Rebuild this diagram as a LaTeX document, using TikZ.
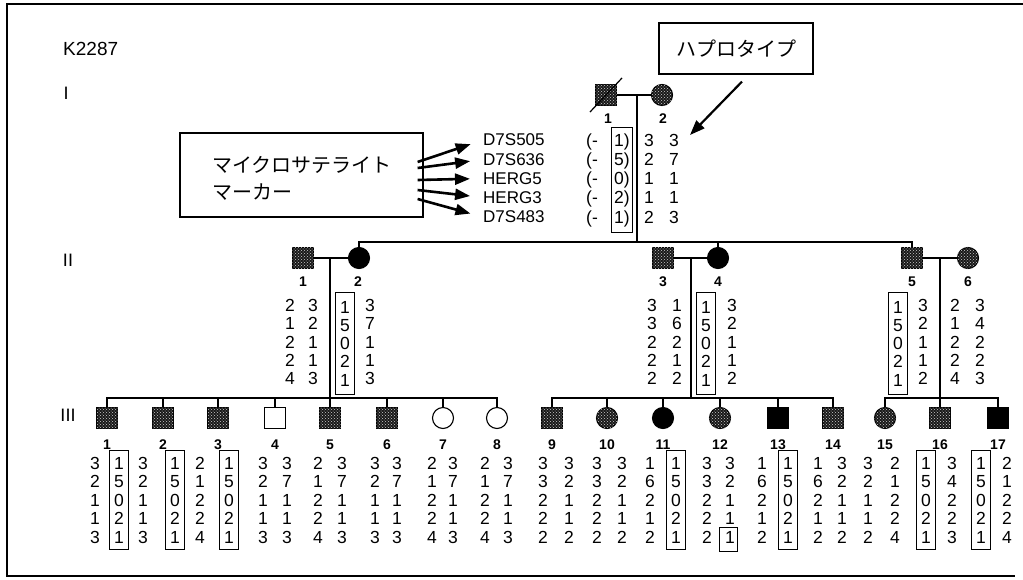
\documentclass[tikz,border=0pt]{standalone}
\usepackage{fontspec}
\setmainfont{Liberation Sans}
\newfontfamily\jpfont{Noto Sans CJK JP}
\usetikzlibrary{positioning,arrows.meta,calc,patterns}
% five alleles of one haplotype, one per row
\def\hdx#1#2#3#4#5{#1\\#2\\#3\\#4\\#5}

\begin{document}
\begin{tikzpicture}[x=1pt, y=-1pt,
    ln/.style={line width=1.2pt},
    sym/.style={draw, line width=1.1pt, inner sep=0pt, minimum size=21pt},
    male/.style={sym, rectangle},
    female/.style={sym, circle},
    aff/.style={fill=black},
    car/.style={fill=black!90, postaction={pattern=crosshatch dots, pattern color=white!80!black}},
    unaff/.style={fill=white},
    symfill/.style={#1},
    nr/.style={font=\fontsize{14}{14}\selectfont\bfseries, inner sep=0pt},
    gen/.style={font=\fontsize{18}{18}\selectfont, inner sep=0pt},
    mkl/.style={font=\fontsize{17}{17}\selectfont, anchor=west, inner sep=0pt},
    hapi/.style={align=center, inner xsep=2.5pt, inner ysep=6pt, line width=1pt, font=\fontsize{17.5}{19.25}\selectfont},
    hapii/.style={align=center, inner xsep=5pt, inner ysep=8.5pt, line width=1pt, font=\fontsize{17.5}{18.25}\selectfont},
    hapiii/.style={align=center, inner xsep=5pt, inner ysep=6.5pt, line width=1pt, font=\fontsize{17.5}{18.5}\selectfont},
    jp/.style={font=\jpfont\fontsize{20}{27}\selectfont},
    marr/.style={-{Triangle[length=15pt,width=11pt]}, line width=2.6pt, shorten >=13pt}]
  \useasboundingbox (0,0) rectangle (1023,579);
  \draw[line width=1.5pt] (1023,4) -- (7,4) -- (7,576) -- (1015,576);

  \node[font=\fontsize{19}{19}\selectfont, anchor=west, inner sep=0pt] (fam) at (63,49) {K2287};
  \node[gen] (g1) at (66,93) {I};
  \node[gen] (g2) at (68,260) {II};
  \node[gen] (g3) at (68,415) {III};

  % callouts
  \node[draw, line width=1.2pt, minimum width=243pt, minimum height=84pt] (mk) at (301.5,175) {};
  \node[jp, anchor=west, align=left, inner sep=0pt] (mkt) at (212,178.5) {マイクロサテライト\\マーカー};
  \node[draw, line width=1.2pt, minimum width=154pt, minimum height=51pt, jp] (hb) at (736,48.5) {ハプロタイプ};
  \coordinate (hapt) at (690,135);
  \draw[line width=2.2pt, -{Triangle[length=15pt,width=11pt]}] ([shift={(6,7)}]hb.south) -- (hapt);

  % markers
  \node[mkl] (mk1) at (483,140) {D7S505};
  \node[mkl] (mk2) at (483,159.5) {D7S636};
  \node[mkl] (mk3) at (483,178.5) {HERG5};
  \node[mkl] (mk4) at (483,197.5) {HERG3};
  \node[mkl] (mk5) at (483,217) {D7S483};
  \draw[marr] ([shift={(-6,-13)}]mk.east) -- (mk1.west);
  \draw[marr] ([shift={(-6,-7)}]mk.east) -- (mk2.west);
  \draw[marr] ([shift={(-6,5)}]mk.east) -- (mk3.west);
  \draw[marr] ([shift={(-6,15)}]mk.east) -- (mk4.west);
  \draw[marr] ([shift={(-6,24)}]mk.east) -- (mk5.west);

  % generation I
  \node[male,car] (i1) at (606,95) {};
  \node[female,car] (i2) at (662,95) {};
  \draw[ln] ([shift={(-5,6)}]i1.south west) -- ([shift={(5,-6)}]i1.north east);
  \node[nr] (n1-1) at (608,119) {1};
  \node[nr] (n1-2) at (663,119) {2};
  \node[hapi] (i1-l) at (592,180) {(-\\(-\\(-\\(-\\(-};
  \node[hapi, draw] (i1-r) at (622,180) {1)\\5)\\0)\\2)\\1)};
  \node[hapi] (i2-l) at (649,178.5) {\hdx 32112};
  \node[hapi] (i2-r) at (674,178.5) {\hdx 37113};

  % generation II
  \node[male,car] (ii1) at (303,258) {};
  \node[female,aff] (ii2) at (359,258) {};
  \node[male,car] (ii3) at (663,258) {};
  \node[female,aff] (ii4) at (718,258) {};
  \node[male,car] (ii5) at (912,258) {};
  \node[female,car] (ii6) at (968,258) {};
  \foreach \k/\x in {1/303,2/358,3/663,4/718,5/912,6/968}
    \node[nr] (n2-\k) at (\x,282) {\k};
  \node[hapii] (ii1-l) at (290,342) {\hdx 21224};
  \node[hapii] (ii1-r) at (313,342) {\hdx 32113};
  \node[hapii, draw] (ii2-l) at (345,343.5) {\hdx 15021};
  \node[hapii] (ii2-r) at (370,342) {\hdx 37113};
  \node[hapii] (ii3-l) at (652,342) {\hdx 33222};
  \node[hapii] (ii3-r) at (677,342) {\hdx 16212};
  \node[hapii, draw] (ii4-l) at (706,343.5) {\hdx 15021};
  \node[hapii] (ii4-r) at (732,342) {\hdx 32112};
  \node[hapii, draw] (ii5-l) at (898,343.5) {\hdx 15021};
  \node[hapii] (ii5-r) at (923,342) {\hdx 32112};
  \node[hapii] (ii6-l) at (955,342) {\hdx 21224};
  \node[hapii] (ii6-r) at (980,342) {\hdx 34223};

  % generation III
  \foreach \n/\x/\s/\f/\a/\b/\p/\q/\u/\v in {
      1/107/male/car/95/119/32113/15021/none/black,
      2/163/male/car/143/175/32113/15021/none/black,
      3/218/male/car/200/229/21224/15021/none/black,
      4/275/male/unaff/263/287/32113/37113/none/none,
      5/330/male/car/318/342/21224/37113/none/none,
      6/387/male/car/375/397/32113/37113/none/none,
      7/443/female/unaff/432/453/21224/37113/none/none,
      8/497/female/unaff/485/508/21224/37113/none/none,
      9/552/male/car/543/569/33222/32112/none/none,
      10/607/female/car/597/622/33222/32112/none/none,
      11/663/female/aff/650/676/16212/15021/none/black,
      12/720/female/car/707/730/33222/32111/none/none,
      13/778/male/aff/762/788/16212/15021/none/black,
      14/833/male/car/818/842/16212/32112/none/none,
      15/885/female/car/868/895/32112/21224/none/none,
      16/940/male/car/926/952/15021/34223/black/none,
      17/998/male/aff/981/1007/15021/21224/black/none}{
    \node[symfill/.expanded={\s,\f}] (iii\n) at (\x,418) {};
    \node[nr] (n3-\n) at (\x,445) {\n};
    \node[hapiii, draw=\u] (iii\n-l) at (\a,500) {\expandafter\hdx\p};
    \node[hapiii, draw=\v] (iii\n-r) at (\b,500) {\expandafter\hdx\q};
  }
  \node[draw, line width=1pt, minimum width=18pt, minimum height=24pt] (iii12-x) at (728,539) {};

  % lines of descent
  \coordinate (d0) at (637,95);
  \coordinate (s0) at (637,242);
  \draw[ln] (i1) -- (i2);
  \draw[ln] (d0) -- (s0);
  \draw[ln] (ii2.north) |- (s0) -| (ii5.north);
  \draw[ln] (ii4.north) -- (ii4.north |- s0);

  \coordinate (d1) at (330,258);
  \coordinate (s1) at (330,398);
  \draw[ln] (ii1) -- (ii2);
  \draw[ln] (d1) -- (s1);
  \draw[ln] (iii1.north) |- (s1) -| (iii8.north);
  \foreach \k in {2,...,7}
    \draw[ln] (iii\k.north) -- (iii\k.north |- s1);

  \coordinate (d2) at (691,258);
  \coordinate (s2) at (691,398);
  \draw[ln] (ii3) -- (ii4);
  \draw[ln] (d2) -- (s2);
  \draw[ln] (iii9.north) |- (s2) -| (iii14.north);
  \foreach \k in {10,...,13}
    \draw[ln] (iii\k.north) -- (iii\k.north |- s2);

  \coordinate (d3) at (940,258);
  \coordinate (s3) at (940,398);
  \draw[ln] (ii5) -- (ii6);
  \draw[ln] (d3) -- (iii16.north);
  \draw[ln] (iii15.north) |- (s3) -| (iii17.north);
\end{tikzpicture}
\end{document}
